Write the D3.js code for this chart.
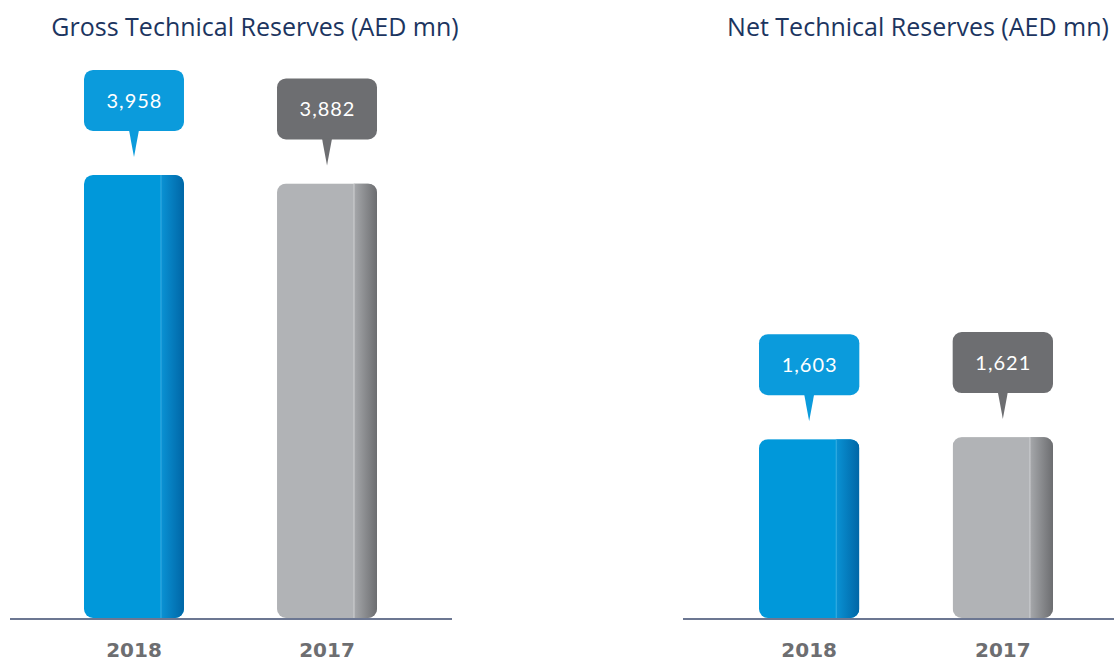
<!DOCTYPE html>
<html>
<head>
<meta charset="utf-8">
<script src="https://cdn.jsdelivr.net/npm/d3@7"></script>
<style>
  body { margin: 0; background: #fff; }
  svg { display: block; }
</style>
</head>
<body>
<div id="chart"></div>
<script>
// chart data
var years = ["2018", "2017"];
var grossValues = [3958, 3882];
var netValues = [1603, 1621];
var panelTitles = ["Gross Technical Reserves (AED mn)", "Net Technical Reserves (AED mn)"];

var width = 1114, height = 662;
var baseY = 619;
var fmt = d3.format(",d");

var svg = d3.select("#chart").append("svg")
    .attr("width", width)
    .attr("height", height);

var defs = svg.append("defs");
function grad(id, c1, c2) {
  var g = defs.append("linearGradient").attr("id", id)
      .attr("x1", "0%").attr("x2", "100%").attr("y1", "0%").attr("y2", "0%");
  g.append("stop").attr("offset", "0%").attr("stop-color", c1);
  g.append("stop").attr("offset", "100%").attr("stop-color", c2);
}
grad("stripBlue", "#0a92d4", "#0066a6");
grad("stripGray", "#a6a8ab", "#6c6d70");

var colors = {
  "2018": {bar: "#0098da", strip: "url(#stripBlue)", line: "#3aaee3", tag: "#0b9bdc"},
  "2017": {bar: "#b1b3b6", strip: "url(#stripGray)", line: "#cfd0d2", tag: "#6d6e71"}
};

// shared value scale for both panels
var y = d3.scaleLinear().domain([0, 4000]).range([baseY, baseY - 448.8]);

var panels = [
  {title: panelTitles[0], values: grossValues, range: [84, 377], axis: [10, 452], titleX: 255},
  {title: panelTitles[1], values: netValues, range: [759, 1053], axis: [683, 1114], titleX: 918}
];

panels.forEach(function(p, pi) {
  var x = d3.scaleBand().domain(years).range(p.range)
      .paddingInner(0.482).paddingOuter(0);
  var bw = x.bandwidth();
  var g = svg.append("g");

  g.append("text")
      .attr("x", p.titleX)
      .attr("y", 36)
      .attr("text-anchor", "middle")
      .style("font-family", "'Open Sans', sans-serif")
      .style("font-size", "25px")
      .style("fill", "#1c3560")
      .text(p.title);

  var data = years.map(function(yr, i) { return {year: yr, value: p.values[i]}; });

  var bar = g.selectAll(".bar")
      .data(data)
    .enter().append("g")
      .attr("class", "bar");

  bar.each(function(d, i) {
    var el = d3.select(this);
    var x0 = x(d.year), top = y(d.value), h = baseY - 1 - top;
    var c = colors[d.year];
    var cid = "clip" + pi + "_" + i;

    defs.append("clipPath").attr("id", cid)
      .append("rect")
        .attr("x", x0).attr("y", top)
        .attr("width", bw).attr("height", h)
        .attr("rx", 9).attr("ry", 9);

    var inner = el.append("g").attr("clip-path", "url(#" + cid + ")");
    inner.append("rect")
        .attr("x", x0).attr("y", top)
        .attr("width", bw).attr("height", h)
        .attr("fill", c.bar);
    inner.append("rect")
        .attr("x", x0 + bw * 0.77).attr("y", top)
        .attr("width", bw * 0.23).attr("height", h)
        .attr("fill", c.strip);
    inner.append("line")
        .attr("x1", x0 + bw * 0.77).attr("x2", x0 + bw * 0.77)
        .attr("y1", top).attr("y2", top + h)
        .attr("stroke", c.line).attr("stroke-width", 1);

    // callout
    var cx = x0 + bw / 2;
    var bBot = top - 44, bTop = top - 105;
    el.append("rect")
        .attr("x", x0).attr("y", bTop)
        .attr("width", bw).attr("height", bBot - bTop)
        .attr("rx", 9).attr("ry", 9)
        .attr("fill", c.tag);
    el.append("path")
        .attr("d", "M" + (cx - 5) + "," + (bBot - 1) + "L" + (cx + 5) + "," + (bBot - 1) + "L" + cx + "," + (top - 18) + "Z")
        .attr("fill", c.tag);
    el.append("text")
        .attr("x", cx + 0.5)
        .attr("y", (bTop + bBot) / 2)
        .attr("dy", "0.36em")
        .attr("text-anchor", "middle")
        .style("font-family", "Lato, sans-serif")
        .style("font-size", "20px")
        .style("letter-spacing", "1px")
        .style("fill", "#fff")
        .text(fmt(d.value));
  });

  // baseline
  g.append("line")
      .attr("x1", p.axis[0]).attr("x2", p.axis[1])
      .attr("y1", baseY).attr("y2", baseY)
      .attr("stroke", "#3b4a6e")
      .attr("stroke-width", 1.5);

  // year labels
  var xAxis = d3.axisBottom(x).tickSize(0).tickPadding(0);
  var ax = g.append("g")
      .attr("transform", "translate(0," + baseY + ")")
      .call(xAxis);
  ax.select(".domain").remove();
  ax.selectAll("text")
      .attr("y", 38)
      .attr("dy", null)
      .style("font-family", "'DejaVu Sans', sans-serif")
      .style("font-weight", "bold")
      .style("font-size", "20px")
      .style("fill", "#6d6e71");
});
</script>
</body>
</html>
